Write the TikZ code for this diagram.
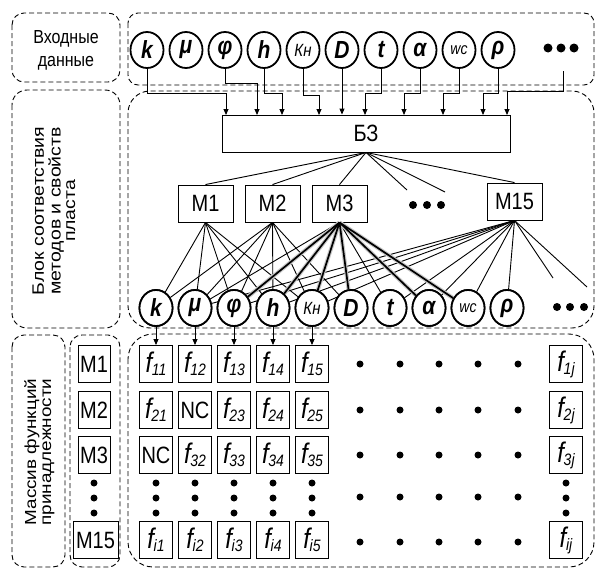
\documentclass[tikz,border=0pt]{standalone}
\usepackage{fontspec}
\setmainfont{Liberation Sans}
\usepackage{graphicx}
\usetikzlibrary{shapes.geometric,arrows.meta}
\newcommand\vs[1]{\scalebox{1}[1.18]{#1}}
\newcommand\fc[1]{\vs{{\fontsize{24}{24}\selectfont\itshape f}\kern-0.3pt\raisebox{-2.5pt}{\fontsize{14}{14}\selectfont\itshape #1}}}
\newcommand\bi[1]{\vs{\fontsize{21}{21}\selectfont\bfseries\itshape #1}}
\newcommand\bt[1]{\vs{\fontsize{20}{20}\selectfont #1}}
\begin{document}
\begin{tikzpicture}[x=1pt,y=-1pt,
  grp/.style={dash pattern=on 5pt off 3pt, line width=0.9pt},
  pc/.style={ellipse, draw, line width=1.8pt, minimum width=33pt, minimum height=36pt, inner sep=0pt},
  bx/.style={draw, line width=0.9pt, inner sep=0pt, minimum height=37pt},
  cell/.style={draw, line width=0.9pt, minimum width=33pt, minimum height=37pt, inner sep=0pt},
  bigdot/.style={circle, fill, inner sep=0pt, minimum size=9pt},
  mdot/.style={circle, fill, inner sep=0pt, minimum size=7pt},
  arr/.style={line width=0.9pt, -{Triangle[length=6pt,width=5pt]}},
  wire/.style={line width=0.9pt},
  thk/.style={line width=1.7pt},
  shd/.style={line width=4pt, black!22, xshift=1.2pt, yshift=-1.2pt}]
\useasboundingbox (0,0) rectangle (595,570);

% group frames
\draw[grp, rounded corners=12pt] (12,13) rectangle (120,82);
\draw[grp, rounded corners=10pt] (128,13) rectangle (594,85);
\draw[grp, rounded corners=15pt] (12,90) rectangle (120,328);
\draw[grp, rounded corners=22pt] (128,91) rectangle (594,328);
\draw[grp, rounded corners=12pt] (12,335) rectangle (65,567);
\draw[grp, rounded corners=12pt] (70,335) rectangle (120,567);
\draw[grp, rounded corners=25pt] (128,334) rectangle (594,567);

% left labels
\node (lin) at (66,50) {\vs{\fontsize{16}{19.5}\selectfont\begin{tabular}{@{}c@{}}Входные\\данные\end{tabular}}};
\node[rotate=90] (lblk) at (56,211) {\scalebox{1.18}[1]{\fontsize{16.5}{14.5}\selectfont\begin{tabular}{@{}c@{}}Блок соответствия\\методов и свойств\\пласта\end{tabular}}};
\node[rotate=90] (lmas) at (40,452) {\scalebox{1.18}[1]{\fontsize{16}{15}\selectfont\begin{tabular}{@{}l@{}}Массив функций\\принадлежности\end{tabular}}};

% top input circles
\node[pc] (tk)   at (147,50) {\bi{k}};
\node[pc] (tmu)  at (186,50) {\bi{μ}};
\node[pc] (tphi) at (225,50) {\bi{φ}};
\node[pc] (th)   at (264,50) {\bi{h}};
\node[pc] (tkn)  at (303,50) {\vs{\fontsize{15}{15}\selectfont\itshape Кн}};
\node[pc] (tD)   at (342,50) {\bi{D}};
\node[pc] (tt)   at (381,50) {\bi{t}};
\node[pc] (ta)   at (420,50) {\bi{α}};
\node[pc] (twc)  at (459,50) {\vs{\fontsize{14}{14}\selectfont\itshape wc}};
\node[pc] (trho) at (498,50) {\bi{ρ}};
\node[bigdot] (td1) at (548,48) {};
\node[bigdot] (td2) at (561,48) {};
\node[bigdot] (td3) at (574,48) {};
\coordinate (tdots) at (563,71);

% knowledge base
\node[bx, minimum width=288pt] (BZ) at (366,133.5) {\bt{БЗ}};

% input wiring
\coordinate (a1) at (226,115);
\coordinate (a2) at (257,115);
\coordinate (a3) at (282,115);
\coordinate (a4) at (319,115);
\coordinate (a6) at (365,115);
\coordinate (a7) at (404,115);
\coordinate (a8) at (443,115);
\coordinate (a9) at (483,115);
\coordinate (a10) at (507,115);
\draw[arr] (tk.south) -- (tk.south |- 0,93) -| (a1);
\draw[arr] (tphi.south) -- (tphi.south |- 0,83) -| (a2);
\draw[arr] (th.south) -- (th.south |- 0,93) -| (a3);
\draw[arr] (tkn.south) -- (tkn.south |- 0,95) -| (a4);
\draw[arr] (tD.south) -- (tD.south |- BZ.north);
\draw[arr] (tt.south) -- (tt.south |- 0,93) -| (a6);
\draw[arr] (ta.south) -- (ta.south |- 0,93) -| (a7);
\draw[arr] (twc.south) -- (twc.south |- 0,93) -| (a8);
\draw[arr] (trho.south) -- (trho.south |- 0,93) -| (a9);
\draw[arr] (tdots) -- (tdots |- 0,91) -| (a10);

% methods
\node[bx, minimum width=55pt] (M1)  at (205.5,203.5) {\bt{M1}};
\node[bx, minimum width=55pt] (M2)  at (272.5,203.5) {\bt{M2}};
\node[bx, minimum width=55pt] (M3)  at (339.5,203.5) {\bt{M3}};
\node[mdot, minimum size=8pt] (md1) at (413,205) {};
\node[mdot, minimum size=8pt] (md2) at (427,205) {};
\node[mdot, minimum size=8pt] (md3) at (441,205) {};
\node[bx, minimum width=55pt] (M15) at (514.5,201.5) {\bt{M15}};
\coordinate (bze1) at (407,190);
\coordinate (bze2) at (445,192);
\draw[wire] (BZ.south) -- (M1.north);
\draw[wire] (BZ.south) -- (M2.north);
\draw[wire] (BZ.south) -- (M3.north);
\draw[wire] (BZ.south) -- (bze1);
\draw[wire] (BZ.south) -- (bze2);
\draw[wire] (BZ.south) -- (M15.north);

% bottom property circles
\node[pc] (bk)   at (156,308) {\bi{k}};
\node[pc] (bmu)  at (195,308) {\bi{μ}};
\node[pc] (bphi) at (234,308) {\bi{φ}};
\node[pc] (bh)   at (273,308) {\bi{h}};
\node[pc] (bkn)  at (312,308) {\vs{\fontsize{15}{15}\selectfont\itshape Кн}};
\node[pc] (bD)   at (351,308) {\bi{D}};
\node[pc] (bt)   at (390,308) {\bi{t}};
\node[pc] (ba)   at (429,308) {\bi{α}};
\node[pc] (bwc)  at (468,308) {\vs{\fontsize{14}{14}\selectfont\itshape wc}};
\node[pc] (brho) at (507,308) {\bi{ρ}};
\node[mdot, minimum size=8pt] (bd1) at (557,307) {};
\node[mdot, minimum size=8pt] (bd2) at (570,307) {};
\node[mdot, minimum size=8pt] (bd3) at (584,307) {};
\coordinate (me1) at (553,278);
\coordinate (me2) at (587,287);

% method-property links
\foreach \p in {bk,bmu,bphi,bh,bkn} \draw[wire] (M1.south) -- (\p);
\foreach \p in {bk,bmu,bphi,bh,bkn,bD} \draw[wire] (M2.south) -- (\p);
\foreach \p in {bmu,bt} \draw[wire] (M3.south) -- (\p);
\foreach \p in {bmu,bphi,bh,bkn,bt,ba,bwc,brho} \draw[wire] (M15.south) -- (\p);
\draw[wire] (M15.south) -- (me1);
\draw[wire] (M15.south) -- (me2);
\foreach \p in {bphi,bh,bkn,bD,ba,bwc} \draw[shd] (M3.south) -- (\p);
\foreach \p in {bphi,bh,bkn,bD,ba,bwc} \draw[thk] (M3.south) -- (\p);
% redraw circles over links
\foreach \p/\x in {bk/156,bmu/195,bphi/234,bh/273,bkn/312,bD/351,bt/390,ba/429,bwc/468,brho/507}
  \draw[line width=1.8pt, fill=white] (\x,308) ellipse (16.5pt and 18pt);
\node at (156,308) {\bi{k}};
\node at (195,308) {\bi{μ}};
\node at (234,308) {\bi{φ}};
\node at (273,308) {\bi{h}};
\node at (312,308) {\vs{\fontsize{15}{15}\selectfont\itshape Кн}};
\node at (351,308) {\bi{D}};
\node at (390,308) {\bi{t}};
\node at (429,308) {\bi{α}};
\node at (468,308) {\vs{\fontsize{14}{14}\selectfont\itshape wc}};
\node at (507,308) {\bi{ρ}};

% left method column
\node[bx, minimum width=32pt] (lm1)  at (94,364) {\bt{M1}};
\node[bx, minimum width=32pt] (lm2)  at (94,410) {\bt{M2}};
\node[bx, minimum width=32pt] (lm3)  at (94,455) {\bt{M3}};
\node[bx, minimum width=45pt] (lm15) at (95.5,540) {\bt{M15}};
\foreach \y in {483,498,513} \node[mdot] at (94,\y) {};

% membership matrix
\node[cell] (c11) at (156,364) {\fc{11}};
\node[cell] (c12) at (195,364) {\fc{12}};
\node[cell] (c13) at (234,364) {\fc{13}};
\node[cell] (c14) at (273,364) {\fc{14}};
\node[cell] (c15) at (312,364) {\fc{15}};
\node[cell] (c1j) at (566,364) {\fc{1j}};
\node[cell] (c21) at (156,410) {\fc{21}};
\node[cell] (c22) at (195,410) {\bt{NC}};
\node[cell] (c23) at (234,410) {\fc{23}};
\node[cell] (c24) at (273,410) {\fc{24}};
\node[cell] (c25) at (312,410) {\fc{25}};
\node[cell] (c2j) at (566,410) {\fc{2j}};
\node[cell] (c31) at (156,455) {\bt{NC}};
\node[cell] (c32) at (195,455) {\fc{32}};
\node[cell] (c33) at (234,455) {\fc{33}};
\node[cell] (c34) at (273,455) {\fc{34}};
\node[cell] (c35) at (312,455) {\fc{35}};
\node[cell] (c3j) at (566,455) {\fc{3j}};
\node[cell] (ci1) at (156,540) {\fc{i1}};
\node[cell] (ci2) at (195,540) {\fc{i2}};
\node[cell] (ci3) at (234,540) {\fc{i3}};
\node[cell] (ci4) at (273,540) {\fc{i4}};
\node[cell] (ci5) at (312,540) {\fc{i5}};
\node[cell] (cij) at (566,540) {\fc{ij}};
\foreach \x in {156,195,234,273,312,566}
  \foreach \y in {483,498,513} \node[mdot] at (\x,\y) {};
\foreach \x in {360,400,439,478,518}
  \foreach \y in {364,410,455,497,542} \node[mdot] at (\x,\y) {};

% property to matrix arrows
\draw[arr] (bk.south) -- (c11.north);
\draw[arr] (bmu.south) -- (c12.north);
\draw[arr] (bphi.south) -- (c13.north);
\draw[arr] (bh.south) -- (c14.north);
\draw[arr] (bkn.south) -- (c15.north);
\end{tikzpicture}
\end{document}
